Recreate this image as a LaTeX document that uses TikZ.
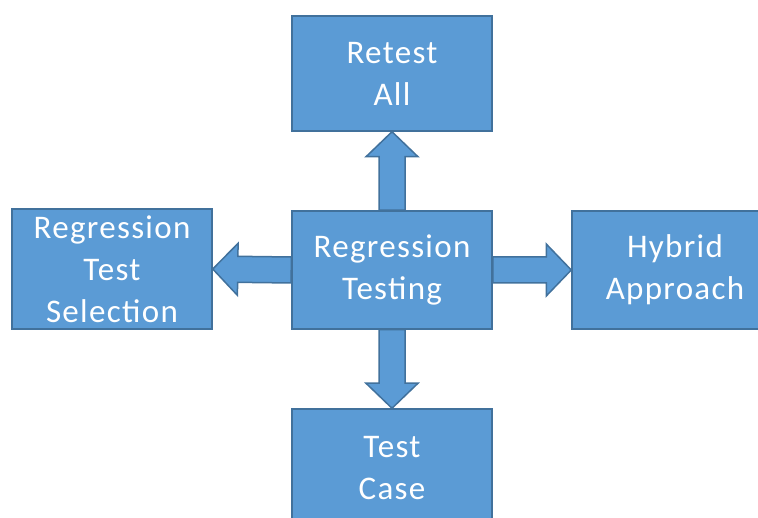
\documentclass[tikz,border=0pt]{standalone}
\usepackage{fontspec}
\setmainfont{Carlito}[LetterSpace=4]
\usetikzlibrary{calc}
\definecolor{boxfill}{HTML}{5B9BD5}
\definecolor{boxline}{HTML}{41719C}
\tikzset{
  blockbox/.style={draw=boxline, fill=boxfill, line width=1.5pt, inner sep=0pt,
    text=white, align=center, font=\fontsize{33}{42}\selectfont},
  blockarrow/.style={draw=boxline, fill=boxfill, line width=1.5pt, line join=miter}
}
\newcommand{\blockarr}[2]{%
  \coordinate (H) at ($(#2)!25pt!(#1)$);
  \path[blockarrow] ($(#1)!13pt!90:(#2)$) -- ($(H)!13pt!-90:(#1)$) -- ($(H)!26pt!-90:(#1)$)
    -- (#2) -- ($(H)!26pt!90:(#1)$) -- ($(H)!13pt!90:(#1)$) -- ($(#1)!13pt!-90:(#2)$) -- cycle;
}
\begin{document}
\begin{tikzpicture}[x=1pt,y=-1pt]
\useasboundingbox (0,0) rectangle (758,518);
\clip (0,0) rectangle (758,518);
\node[blockbox, minimum width=200pt, minimum height=115pt] (top) at (392,73.5) {Retest\\All};
\node[blockbox, minimum width=200pt, minimum height=118pt] (c) at (392,270) {Regression\\Testing};
\node[blockbox, minimum width=200pt, minimum height=120pt] (left) at (112,269) {Regression\\Test\\Selection};
\node[blockbox, minimum width=196pt, minimum height=118pt] (right) at (670,270) {\hspace*{10pt}Hybrid\\\hspace*{10pt}Approach};
\node[blockbox, minimum width=200pt, minimum height=118pt] (bot) at (392,468) {Test\\Case};
\blockarr{c.north}{top.south}
\blockarr{c.south}{bot.north}
\blockarr{c.west}{left.east}
\blockarr{c.east}{right.west}
\end{tikzpicture}
\end{document}
